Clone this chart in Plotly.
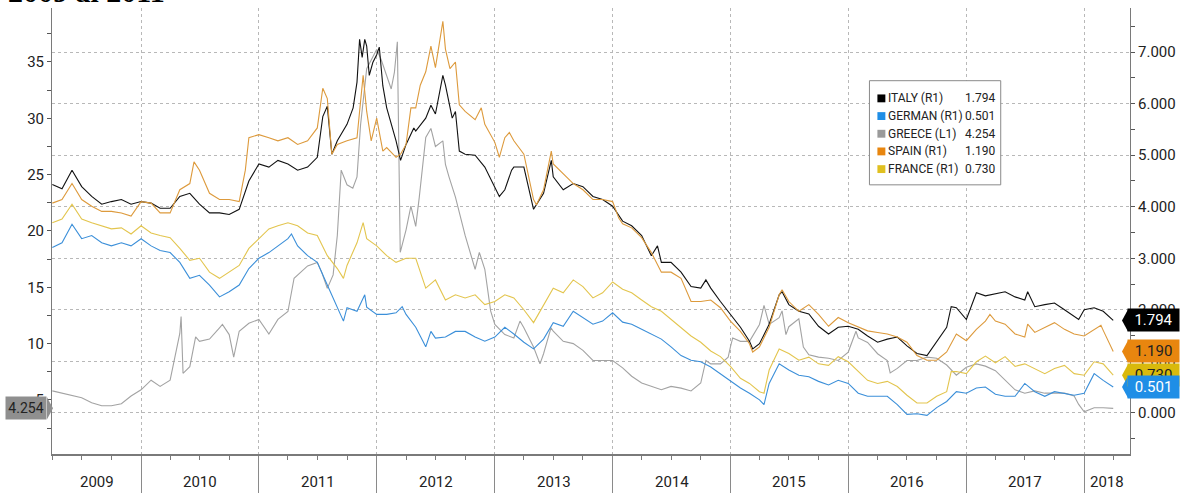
import pandas as pd
import plotly.graph_objects as go

# ---------------- DATA ----------------
months = pd.date_range("2009-04-01", "2018-04-01", freq="MS")  # Apr-2009 .. Apr-2018

italy_monthly = [
    4.43, 4.35, 4.71, 4.39, 4.20, 4.05, 4.10, 4.14, 4.05,
    4.10, 4.07, 3.97, 3.97, 4.20, 4.26, 4.05, 3.88, 3.88, 3.85, 3.95, 4.50,
    4.83, 4.77, 4.90, 4.83, 4.71, 4.77, 4.96, 5.95, 5.28, 5.60, 6.42, 7.12,
    6.95, 5.92, 5.28, 5.21, 5.47, 5.72, 5.80, 6.36, 5.85, 5.02, 5.00, 4.77,
    4.39, 4.33, 4.77, 4.77, 3.95, 4.26, 4.58, 4.33, 4.45, 4.39, 4.20, 4.14,
    4.01, 3.72, 3.63, 3.44, 3.05, 2.92, 2.92, 2.73, 2.45, 2.42, 2.42, 2.16,
    1.91, 1.66, 1.39, 1.34, 1.72, 2.29, 2.10, 1.97, 1.92, 1.68, 1.53, 1.66,
    1.68, 1.62, 1.49, 1.37, 1.43, 1.47, 1.30, 1.15, 1.11, 1.37, 1.66, 2.04,
    1.81, 2.33, 2.27, 2.31, 2.35, 2.25, 2.19, 2.06, 2.10, 2.13, 2.00, 1.87,
    2.00, 2.04, 1.97, 1.794,
]
italy_extra_dates = [
    "2011-07-18", "2011-08-15", "2011-10-20", "2011-11-09", "2011-11-17", "2011-11-25",
    "2011-12-09", "2011-12-20", "2012-01-09", "2012-01-20", "2012-02-15", "2012-03-15",
    "2012-04-25", "2012-06-17", "2012-07-24", "2012-08-22", "2012-09-13", "2013-01-15",
    "2013-02-22", "2013-06-25", "2014-05-20", "2014-10-17", "2015-03-11", "2015-06-10",
    "2016-11-15", "2017-07-10", "2017-12-15",
]
italy_extra_vals = [
    5.75, 5.02, 5.92, 7.25, 6.90, 7.25,
    6.55, 6.80, 7.10, 6.35, 5.60, 4.90,
    5.53, 5.97, 6.55, 5.72, 5.08, 4.20,
    4.71, 4.90, 3.24, 2.58, 1.24, 2.35,
    2.06, 2.35, 1.81,
]

spain_monthly = [
    4.07, 4.14, 4.45, 4.14, 4.01, 3.91, 3.91, 3.88, 3.82,
    4.10, 4.07, 3.88, 3.88, 4.33, 4.45, 4.71, 4.26, 4.14, 4.14, 4.10, 5.34,
    5.40, 5.34, 5.28, 5.34, 5.21, 5.28, 5.53, 6.10, 5.21, 5.28, 5.34, 5.85,
    5.72, 5.15, 4.96, 5.21, 5.92, 6.62, 6.70, 7.06, 6.81, 5.85, 5.69, 5.60,
    5.25, 5.34, 5.28, 5.02, 4.14, 4.33, 4.83, 4.64, 4.45, 4.33, 4.14, 4.14,
    4.10, 3.67, 3.59, 3.40, 3.11, 2.73, 2.73, 2.61, 2.16, 2.16, 2.19, 2.04,
    1.78, 1.58, 1.34, 1.28, 1.66, 2.29, 2.16, 1.97, 2.10, 1.91, 1.68, 1.85,
    1.75, 1.66, 1.59, 1.56, 1.53, 1.47, 1.37, 1.11, 1.02, 1.02, 1.18, 1.53,
    1.40, 1.62, 1.78, 1.78, 1.72, 1.53, 1.47, 1.56, 1.66, 1.75, 1.62, 1.53,
    1.49, 1.62, 1.60, 1.190,
]
spain_extra_dates = [
    "2010-06-14", "2010-11-20", "2011-07-18", "2011-08-15", "2011-11-20", "2011-12-15",
    "2012-01-20", "2012-03-15", "2012-04-16", "2012-05-15", "2012-06-17", "2012-07-24",
    "2012-08-15", "2012-09-13", "2012-11-20", "2013-01-15", "2013-02-15", "2013-05-10",
    "2013-06-25", "2014-01-20", "2015-03-11", "2015-06-10", "2017-03-15", "2017-07-10",
    "2018-02-22", "2018-03-15",
]
spain_extra_vals = [
    4.87, 4.71, 6.30, 5.02, 6.55, 5.28,
    5.08, 5.02, 5.92, 6.36, 7.12, 7.60,
    6.68, 5.98, 5.92, 4.96, 5.44, 4.04,
    5.08, 3.78, 1.18, 2.39, 1.91, 1.72,
    1.70, 1.40,
]

france_monthly = [
    3.69, 3.76, 4.05, 3.76, 3.69, 3.63, 3.57, 3.59, 3.47,
    3.63, 3.49, 3.44, 3.40, 3.19, 2.96, 3.00, 2.73, 2.61, 2.73, 2.86, 3.19,
    3.38, 3.57, 3.63, 3.69, 3.63, 3.49, 3.44, 3.05, 2.80, 2.86, 3.30, 3.38,
    3.24, 3.05, 2.92, 3.00, 3.00, 2.42, 2.58, 2.19, 2.29, 2.23, 2.29, 2.10,
    2.16, 2.29, 2.23, 2.00, 1.75, 2.10, 2.42, 2.33, 2.58, 2.45, 2.23, 2.33,
    2.54, 2.40, 2.33, 2.19, 2.06, 1.97, 1.81, 1.66, 1.49, 1.37, 1.20, 1.09,
    0.90, 0.67, 0.57, 0.41, 0.83, 1.24, 1.15, 1.02, 1.08, 0.95, 0.92, 1.09,
    0.99, 0.80, 0.63, 0.57, 0.61, 0.51, 0.34, 0.19, 0.19, 0.32, 0.41, 0.80,
    0.76, 0.99, 1.10, 0.97, 1.09, 0.90, 0.95, 0.86, 0.76, 0.86, 0.92, 0.76,
    0.73, 0.99, 0.95, 0.730,
]
france_extra_dates = ["2011-09-20", "2011-11-20", "2015-04-15", "2016-11-15"]
france_extra_vals = [2.61, 3.69, 0.38, 0.80]

german_monthly = [
    3.21, 3.30, 3.66, 3.38, 3.44, 3.30, 3.24, 3.30, 3.24,
    3.38, 3.24, 3.15, 3.11, 2.92, 2.61, 2.67, 2.48, 2.25, 2.35, 2.48, 2.80,
    3.00, 3.11, 3.24, 3.38, 3.24, 3.05, 2.92, 2.48, 2.04, 2.04, 1.97, 2.05,
    1.91, 1.91, 1.94, 1.91, 1.66, 1.28, 1.45, 1.47, 1.58, 1.58, 1.47, 1.39,
    1.47, 1.66, 1.53, 1.37, 1.24, 1.43, 1.75, 1.68, 1.97, 1.85, 1.72, 1.78,
    1.94, 1.76, 1.72, 1.62, 1.53, 1.43, 1.28, 1.11, 1.02, 0.99, 0.89, 0.76,
    0.63, 0.48, 0.38, 0.25, 0.57, 0.95, 0.83, 0.73, 0.70, 0.61, 0.54, 0.63,
    0.57, 0.38, 0.32, 0.32, 0.32, 0.16, -0.03, -0.02, -0.05, 0.10, 0.22, 0.41,
    0.38, 0.48, 0.50, 0.36, 0.32, 0.32, 0.57, 0.41, 0.32, 0.41, 0.38, 0.34,
    0.38, 0.76, 0.63, 0.501,
]
german_extra_dates = ["2011-04-12", "2011-09-20", "2011-11-25", "2012-03-20", "2012-06-17", "2015-04-15"]
german_extra_vals = [3.47, 1.78, 2.29, 2.06, 1.58, 0.16]

greece_monthly = [
    5.80, 5.60, 5.45, 5.20, 4.75, 4.48, 4.48, 4.66, 5.35,
    5.90, 6.75, 6.20, 6.75, 10.90, 7.95, 10.20, 10.40, 11.40, 10.80, 11.10, 11.80,
    12.15, 10.85, 12.15, 12.85, 16.10, 16.90, 17.20, 14.90, 19.60, 24.10, 24.80, 34.40,
    36.10, 33.80, 36.00, 20.10, 20.40, 28.30, 27.50, 25.90, 23.00, 19.60, 16.60, 16.60,
    11.70, 10.80, 10.50, 11.40, 9.70, 9.10, 11.10, 10.20, 10.00, 9.40, 8.50, 8.50,
    8.50, 7.85, 7.10, 6.50, 6.20, 5.90, 6.20, 6.05, 5.80, 6.50, 8.20, 8.20,
    9.70, 10.20, 10.20, 11.70, 11.70, 12.30, 11.50, 12.20, 9.00, 8.80, 8.70, 8.50,
    9.25, 10.50, 10.10, 9.10, 8.50, 7.80, 8.50, 8.50, 8.80, 8.70, 8.10, 7.20,
    7.90, 8.20, 8.00, 7.60, 6.75, 5.90, 5.60, 5.80, 5.60, 5.60, 5.60, 5.35,
    3.95, 4.30, 4.30, 4.254,
]
greece_extra_dates = [
    "2010-04-23", "2010-05-05", "2010-05-11", "2010-06-19", "2010-09-10", "2010-10-15",
    "2011-04-20", "2011-07-15", "2011-08-19", "2011-09-13", "2011-10-19", "2011-11-12",
    "2011-12-15", "2012-01-15", "2012-02-15", "2012-02-25", "2012-03-05", "2012-03-14",
    "2012-04-16", "2012-05-12", "2012-06-17", "2012-07-24", "2012-08-12", "2012-11-14",
    "2012-12-19", "2013-03-20", "2013-05-21", "2013-06-24", "2014-10-17", "2014-12-25",
    "2015-01-08", "2015-04-15", "2015-06-10", "2015-06-22", "2015-08-15", "2016-01-25",
    "2016-05-10", "2017-12-15",
]
greece_extra_vals = [
    9.97, 12.40, 7.36, 10.60, 11.70, 8.80,
    15.80, 16.30, 16.10, 25.40, 23.80, 29.40,
    35.20, 35.20, 32.60, 34.10, 36.80, 18.10,
    22.20, 23.00, 29.10, 28.00, 24.80, 18.10,
    12.90, 12.00, 8.20, 11.40, 8.50, 8.80,
    10.50, 13.40, 12.90, 10.80, 9.70, 11.10,
    7.40, 4.60,
]

year_labels = [str(y) for y in range(2009, 2019)]

# ---------------- helpers ----------------
def build(monthly, extra_dates, extra_vals):
    assert len(monthly) == len(months)
    a = pd.Series(monthly, index=months)
    b = pd.Series(extra_vals, index=pd.to_datetime(extra_dates))
    return pd.concat([a, b]).sort_index()

italy = build(italy_monthly, italy_extra_dates, italy_extra_vals)
spain = build(spain_monthly, spain_extra_dates, spain_extra_vals)
france = build(france_monthly, france_extra_dates, france_extra_vals)
german = build(german_monthly, german_extra_dates, german_extra_vals)
greece = build(greece_monthly, greece_extra_dates, greece_extra_vals)

W, H = 1184, 499
ML, MR, MT, MB = 52, 48, 8, 37
PW, PH = W - ML - MR, H - MT - MB

def px(x):
    return (x - ML) / PW

def py(y):
    return (H - MB - y) / PH

X_RANGE = [pd.Timestamp("2009-03-31"), pd.Timestamp("2018-05-23")]
Y_LEFT = [0.2, 39.79]
Y_RIGHT = [-0.80, 7.858]

FONT = "Roboto, Liberation Sans, sans-serif"
TXT = "#222222"

series = [
    ("ITALY (R1)", italy, "#111111", "#000000", "#ffffff", "y2"),
    ("GERMAN (R1)", german, "#3b8fd9", "#1f8ee6", "#ffffff", "y2"),
    ("GREECE (L1)", greece, "#a3a3a3", "#8f8f8f", TXT, "y"),
    ("SPAIN (R1)", spain, "#dd9a3c", "#e8860f", TXT, "y2"),
    ("FRANCE (R1)", france, "#e3c54e", "#d9b90c", TXT, "y2"),
]
legend_sq = {"ITALY (R1)": "#000000", "GERMAN (R1)": "#1f8ee6", "GREECE (L1)": "#9a9a9a",
             "SPAIN (R1)": "#e8860f", "FRANCE (R1)": "#e0c020"}

fig = go.Figure()
draw_order = ["GREECE (L1)", "ITALY (R1)", "GERMAN (R1)", "SPAIN (R1)", "FRANCE (R1)"]
lookup = {s[0]: s for s in series}
for nm in draw_order:
    name, s, col, _, _, ax = lookup[nm]
    fig.add_trace(go.Scatter(x=s.index, y=s.values, mode="lines", name=name, yaxis=ax,
                             line=dict(color=col, width=1.1), hoverinfo="skip"))

axis_line = "#7a7a7a"
grid = "#b8b8b8"
fig.update_layout(
    width=W, height=H, margin=dict(l=ML, r=MR, t=MT, b=MB),
    paper_bgcolor="white", plot_bgcolor="white", showlegend=False,
    xaxis=dict(type="date", range=X_RANGE, tickmode="linear", tick0="2010-01-01", dtick="M12",
               ticks="outside", ticklen=MB, tickcolor="#8a8a8a", tickwidth=1,
               showticklabels=False, showgrid=True, gridcolor=grid, griddash="dot", gridwidth=1,
               showline=True, linecolor=axis_line, linewidth=1.5, zeroline=False,
               minor=dict(tickmode="linear", tick0="2009-01-01", dtick="M3", ticks="outside",
                          ticklen=4, tickcolor=axis_line, showgrid=False)),
    yaxis=dict(range=Y_LEFT, tickmode="linear", tick0=0, dtick=5, ticks="outside", ticklen=4,
               tickcolor="#555555", showgrid=False, zeroline=False, showline=True,
               linecolor=axis_line, tickfont=dict(family=FONT, size=15, color=TXT),
               minor=dict(tickmode="linear", tick0=0, dtick=2.5, ticks="outside", ticklen=4,
                          tickcolor="#555555")),
    yaxis2=dict(overlaying="y", side="right", range=Y_RIGHT, tickmode="linear", tick0=0, dtick=1,
                tickformat=".3f", ticks="outside", ticklen=4, tickcolor="#555555",
                showgrid=True, gridcolor=grid, griddash="dot", gridwidth=1, zeroline=False,
                showline=True, linecolor=axis_line, tickfont=dict(family=FONT, size=15, color=TXT),
                minor=dict(tickmode="linear", tick0=0, dtick=0.5, ticks="outside", ticklen=4,
                           tickcolor="#555555")),
)

shapes = []
annotations = []

# year labels centred in each (visible) year span
for lab in year_labels:
    y = int(lab)
    a = max(pd.Timestamp(f"{y}-01-01"), X_RANGE[0])
    b = min(pd.Timestamp(f"{y + 1}-01-01"), X_RANGE[1])
    annotations.append(dict(x=a + (b - a) / 2, xref="x", y=py(490), yref="paper", text=lab,
                            showarrow=False, xanchor="center", yanchor="middle",
                            font=dict(family=FONT, size=15, color=TXT)))

# legend box
shapes.append(dict(type="rect", xref="paper", yref="paper", x0=px(874), x1=px(1006),
                   y0=py(188), y1=py(82), fillcolor="white", line=dict(color="#8a8a8a", width=1),
                   layer="above"))
for i, (name, s, col, tagbg, tagfg, ax) in enumerate(series):
    ry = 100 + 18 * i
    shapes.append(dict(type="rect", xref="paper", yref="paper", x0=px(882), x1=px(890),
                       y0=py(ry + 4), y1=py(ry - 4), fillcolor=legend_sq[name],
                       line=dict(width=0), layer="above"))
    annotations.append(dict(x=px(891), xref="paper", y=py(ry), yref="paper", text=name,
                            showarrow=False, xanchor="left", yanchor="middle",
                            font=dict(family=FONT, size=12, color=TXT)))
    annotations.append(dict(x=px(1002), xref="paper", y=py(ry), yref="paper",
                            text=f"{s.iloc[-1]:.3f}", showarrow=False, xanchor="right",
                            yanchor="middle", font=dict(family=FONT, size=12, color=TXT)))

# last-value tags
tag_order = ["GREECE (L1)", "ITALY (R1)", "SPAIN (R1)", "FRANCE (R1)", "GERMAN (R1)"]
for nm in tag_order:
    name, s, col, tagbg, tagfg, ax = lookup[nm]
    v = float(s.iloc[-1])
    if ax == "y2":
        shapes.append(dict(type="path", xref="paper", xsizemode="pixel", xanchor=1,
                           yref="y2", ysizemode="pixel", yanchor=v,
                           path="M -8,0 L -2,11 L -2,-11 Z", fillcolor=tagbg,
                           line=dict(width=0), layer="above"))
        annotations.append(dict(x=1, xref="paper", y=v, yref="y2", text=f"{v:.3f}",
                                showarrow=False, xanchor="left", yanchor="middle", xshift=-3,
                                width=47, height=18, borderpad=2, bgcolor=tagbg, align="center",
                                font=dict(family=FONT, size=15, color=tagfg)))
    else:
        shapes.append(dict(type="path", xref="paper", xsizemode="pixel", xanchor=0,
                           yref="y", ysizemode="pixel", yanchor=v,
                           path="M 1,0 L -5,11 L -5,-11 Z", fillcolor=tagbg,
                           line=dict(width=0), layer="above"))
        annotations.append(dict(x=0, xref="paper", y=v, yref="y", text=f"{v:.3f}",
                                showarrow=False, xanchor="right", yanchor="middle", xshift=-5,
                                width=36, height=18, borderpad=2, bgcolor=tagbg, align="center",
                                font=dict(family=FONT, size=14, color=tagfg)))

# clipped heading of the surrounding document
annotations.append(dict(x=px(6), xref="paper", y=py(10.5), yref="paper", text="<b>2009 al 2011</b>",
                        showarrow=False, xanchor="left", yanchor="bottom",
                        font=dict(family="Liberation Serif, Times New Roman, serif", size=30,
                                  color="#000000")))

fig.update_layout(shapes=shapes, annotations=annotations)

fig.write_html("out.html", config={"displayModeBar": False},
               post_script="document.body.style.margin='0';")
